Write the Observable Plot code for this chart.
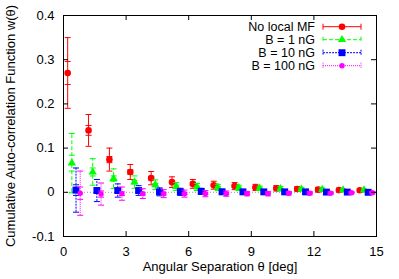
<!DOCTYPE html>
<html><head><meta charset="utf-8">
<script src="https://cdn.jsdelivr.net/npm/d3@7"></script>
<script src="https://cdn.jsdelivr.net/npm/@observablehq/plot@0.6"></script>
<style>
body{margin:0;background:#fff;}
svg{font-family:"Liberation Sans",Arial,Helvetica,sans-serif;}
</style>
</head><body><div id="chart"></div>
<script>
// ---- data ----
const seriesNames = ["No local MF", "B = 1 nG", "B = 10 nG", "B = 100 nG"];
const xTicks = [0, 3, 6, 9, 12, 15];
const yTicks = [-0.1, 0, 0.1, 0.2, 0.3, 0.4];
const xTitle = "Angular Separation θ [deg]";
const yTitle = "Cumulative Auto-correlation Function w(θ)";

const redX = [0.2,1.2,2.2,3.2,4.2,5.2,6.2,7.2,8.2,9.2,10.2,11.2,12.2,13.2,14.2];
const redY = [0.270,0.140,0.074,0.046,0.032,0.023,0.019,0.016,0.014,0.011,0.009,0.0075,0.006,0.005,0.0045];
const redErr = [0.080,0.036,0.026,0.017,0.015,0.012,0.010,0.009,0.008,0.007,0.006,0.005,0.005,0.004,0.004];
const redErrIn = [0.026,0.011,0.007,0.005,0.004,0.003,0.003,0.002,0.002,0.002,0.002,0.002,0.001,0.001,0.001];

const greenX = [0.4,1.4,2.4,3.4,4.4,5.4,6.4,7.4,8.4,9.4,10.4,11.4,12.4,13.4,14.4];
const greenY = [0.066,0.046,0.031,0.023,0.017,0.013,0.012,0.011,0.010,0.009,0.008,0.007,0.006,0.005,0.005];
const greenErr = [0.067,0.030,0.022,0.014,0.011,0.009,0.008,0.007,0.006,0.005,0.005,0.004,0.004,0.003,0.003];
const greenErrIn = [0.018,0.009,0.006,0.004,0.003,0.003,0.002,0.002,0.002,0.002,0.001,0.001,0.001,0.001,0.001];

const blueX = [0.6,1.6,2.6,3.6,4.6,5.6,6.6,7.6,8.6,9.6,10.6,11.6,12.6,13.6,14.6];
const blueY = [0.005,0.004,0.004,0.004,0.001,0.001,0.002,0.001,0.001,0.001,0.001,0.001,0.0005,0.0005,0.0];
const blueErr = [0.050,0.025,0.015,0.011,0.009,0.008,0.007,0.006,0.005,0.005,0.004,0.004,0.003,0.003,0.003];
const blueErrIn = [0.012,0.006,0.004,0.003,0.003,0.002,0.002,0.002,0.002,0.001,0.001,0.001,0.001,0.001,0.001];

const magentaX = [0.8,1.8,2.8,3.8,4.8,5.8,6.8,7.8,8.8,9.8,10.8,11.8,12.8,13.8,14.8];
const magentaY = [-0.002,-0.004,-0.003,-0.003,-0.003,-0.003,-0.003,-0.003,-0.003,-0.003,-0.002,-0.002,-0.002,-0.001,-0.001];
const magentaErr = [0.050,0.025,0.015,0.011,0.009,0.008,0.007,0.006,0.005,0.005,0.004,0.004,0.003,0.003,0.003];
const magentaErrIn = [0.014,0.007,0.004,0.003,0.003,0.002,0.002,0.002,0.002,0.001,0.001,0.001,0.001,0.001,0.001];

// ---- styles ----
const colors = ["#ff0000", "#00ff00", "#0000ff", "#ff00ff"];
const dashes = [null, "4,2", "2,1", "1,1"];
const symbols = ["circle", "triangle", "square", "circle"];
const radii = [3.3, 3.1, 3.9, 2.7];

const raw = [
  [redX, redY, redErr, redErrIn],
  [greenX, greenY, greenErr, greenErrIn],
  [blueX, blueY, blueErr, blueErrIn],
  [magentaX, magentaY, magentaErr, magentaErrIn]
];
const series = raw.map(([xs, ys, es, eis], i) =>
  xs.map((x, j) => ({series: seriesNames[i], x, y: ys[j], err: es[j], errIn: eis[j]})));

const capSymbol = {
  draw(context, size) {
    const w = Math.sqrt(size / Math.PI);
    context.moveTo(-w, 0);
    context.lineTo(w, 0);
  }
};

const W = 399, H = 279;
const mL = 63, mR = 23, mT = 15, mB = 43;
const fw = W - mL - mR, fh = H - mT - mB, tl = 5;

const marks = [
  Plot.ruleY([0], {stroke: "#999999", strokeDasharray: "1,2"})
];
series.forEach((rows, i) => {
  const c = colors[i], da = dashes[i];
  marks.push(Plot.ruleX(rows, {x: "x", y1: d => d.y - d.err, y2: d => d.y + d.err, stroke: c, strokeDasharray: da}));
  for (const f of [d => d.y - d.err, d => d.y + d.err, d => d.y - d.errIn, d => d.y + d.errIn]) {
    marks.push(Plot.dot(rows, {x: "x", y: f, symbol: capSymbol, r: 3, stroke: c, fill: "none", strokeWidth: 1}));
  }
  marks.push(Plot.dot(rows, {x: "x", y: "y", symbol: symbols[i], r: radii[i], fill: c, stroke: "none"}));
});
marks.push(
  Plot.frame({stroke: "black", strokeWidth: 1}),
  Plot.tickY(yTicks, {y: d => d, insetRight: fw - tl, stroke: "black"}),
  Plot.tickY(yTicks, {y: d => d, insetLeft: fw - tl, stroke: "black"}),
  Plot.tickX(xTicks, {x: d => d, insetTop: fh - tl, stroke: "black"}),
  Plot.tickX(xTicks, {x: d => d, insetBottom: fh - tl, stroke: "black"}),
  Plot.axisY({ticks: yTicks, tickSize: 0, tickPadding: 9, label: null,
    tickFormat: d => d === 0 ? "0" : d.toFixed(1)}),
  Plot.axisX({ticks: xTicks, tickSize: 0, tickPadding: 10, label: null, tickFormat: d => String(d)}),
  Plot.text([yTitle], {frameAnchor: "left", dx: -53, rotate: -90, textAnchor: "middle", fill: "black"}),
  Plot.text([xTitle], {frameAnchor: "bottom", dy: 34, textAnchor: "middle", fill: "black"})
);

const chart = Plot.plot({
  width: W, height: H,
  marginLeft: mL, marginRight: mR, marginTop: mT, marginBottom: mB,
  style: {fontSize: "13px", fontFamily: '"Liberation Sans",Arial,sans-serif', background: "white", color: "black"},
  x: {domain: [0, 15]},
  y: {domain: [-0.1, 0.4]},
  marks
});
document.getElementById("chart").appendChild(chart);

// ---- legend (inside the frame, top-right) ----
const svg = d3.select(chart);
const lg = svg.append("g").attr("font-size", 12.5).attr("fill", "black");
const textRight = 315, lx1 = 323, lx2 = 361, rowTop = 26.7, rowGap = 13;
const d3sym = {circle: d3.symbolCircle, triangle: d3.symbolTriangle, square: d3.symbolSquare};
seriesNames.forEach((name, i) => {
  const y = rowTop + rowGap * i;
  lg.append("text").attr("x", textRight).attr("y", y).attr("dy", "0.35em")
    .attr("text-anchor", "end").text(name);
  const g = lg.append("g").attr("stroke", colors[i]).attr("stroke-dasharray", dashes[i]).attr("fill", "none");
  g.append("line").attr("x1", lx1).attr("x2", lx2).attr("y1", y).attr("y2", y);
  g.append("line").attr("x1", lx1).attr("x2", lx1).attr("y1", y - 3).attr("y2", y + 3).attr("stroke-dasharray", null);
  g.append("line").attr("x1", lx2).attr("x2", lx2).attr("y1", y - 3).attr("y2", y + 3).attr("stroke-dasharray", null);
  lg.append("path").attr("transform", `translate(${(lx1 + lx2) / 2},${y})`)
    .attr("d", d3.symbol(d3sym[symbols[i]], Math.PI * radii[i] * radii[i])())
    .attr("fill", colors[i]);
});
</script>
</body></html>
